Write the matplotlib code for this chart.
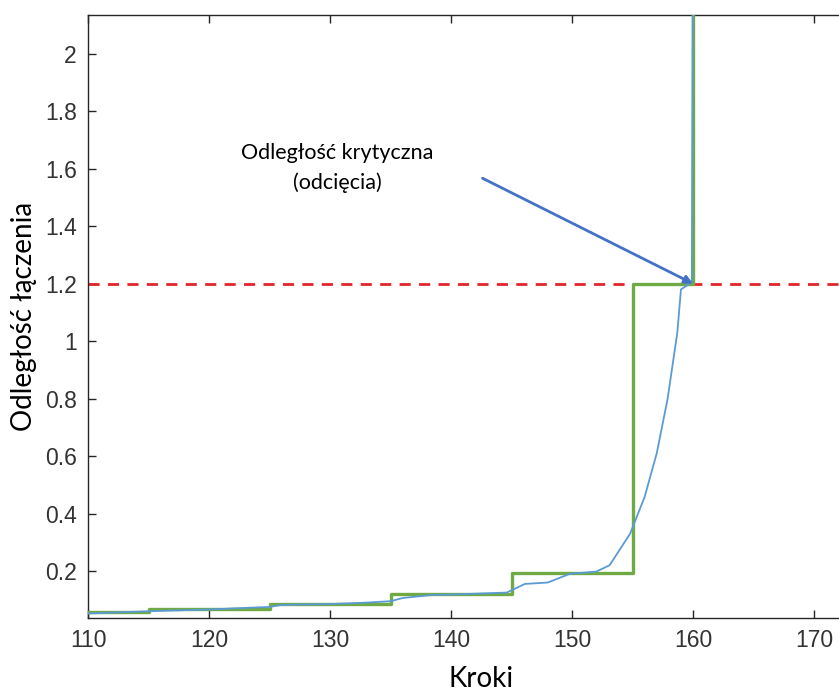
import matplotlib.pyplot as plt

# merge steps and linkage distances
steps_green = [110, 115, 125, 135, 145, 155, 160, 160]
dist_green = [0.056, 0.067, 0.085, 0.12, 0.194, 1.2, 1.2, 2.6]

steps_blue = [110, 115, 120, 122, 125, 126, 130, 133, 135, 136, 138.5, 140, 144.6,
              146.1, 148, 149.8, 152, 153.1, 154.8, 156, 157, 157.9, 158.7, 159.0,
              159.9, 160.0]
dist_blue = [0.052, 0.06, 0.066, 0.07, 0.075, 0.082, 0.085, 0.09, 0.095, 0.106,
             0.117, 0.118, 0.125, 0.155, 0.16, 0.19, 0.198, 0.22, 0.33, 0.458,
             0.61, 0.80, 1.03, 1.18, 1.205, 2.6]

cutoff = 1.2
xticks = [110, 120, 130, 140, 150, 160, 170]
yticks = [0.2, 0.4, 0.6, 0.8, 1, 1.2, 1.4, 1.6, 1.8, 2]
ytick_labels = ['0.2', '0.4', '0.6', '0.8', '1', '1.2', '1.4', '1.6', '1.8', '2']

fig = plt.figure(figsize=(8.39, 6.95), dpi=100)
ax = fig.add_axes([0.1049, 0.1108, 0.9375, 0.868])

ax.step(steps_green, dist_green, where='post', color='#6FAA45', lw=2.4, zorder=3)
ax.plot(steps_blue, dist_blue, color='#5B9BD5', lw=1.3, zorder=4)
ax.axhline(cutoff, color='#E0262A', lw=2, ls=(0, (4, 3)), zorder=2)

ax.annotate('', xy=(160, cutoff), xytext=(142.6, 1.567),
            arrowprops=dict(arrowstyle='-|>', color='#4472C4', lw=2,
                            mutation_scale=12, shrinkA=0, shrinkB=0),
            zorder=5)
ax.text(130.6, 1.655, 'Odległość krytyczna', ha='center', va='center',
        fontsize=15.5, family='Lato')
ax.text(130.6, 1.55, '(odcięcia)', ha='center', va='center',
        fontsize=15.5, family='Lato')

ax.set_xlim(110, 175)
ax.set_ylim(0.0365, 2.136)
ax.set_xticks(xticks)
ax.set_yticks(yticks)
ax.set_yticklabels(ytick_labels)

for lab in ax.get_xticklabels() + ax.get_yticklabels():
    lab.set_fontfamily('Liberation Sans')
    lab.set_fontsize(16.5)
    lab.set_color('#333333')
ax.tick_params(direction='in', top=True, right=True, length=6, width=1,
               color='#262626', pad=8)
for side in ax.spines.values():
    side.set_color('#262626')
    side.set_linewidth(1)

ax.set_xlabel('Kroki', fontsize=20, family='Lato', labelpad=10)
ax.set_ylabel('Odległość łączenia', fontsize=20, family='Lato', labelpad=6)

fig.savefig('out.png', dpi=100)
